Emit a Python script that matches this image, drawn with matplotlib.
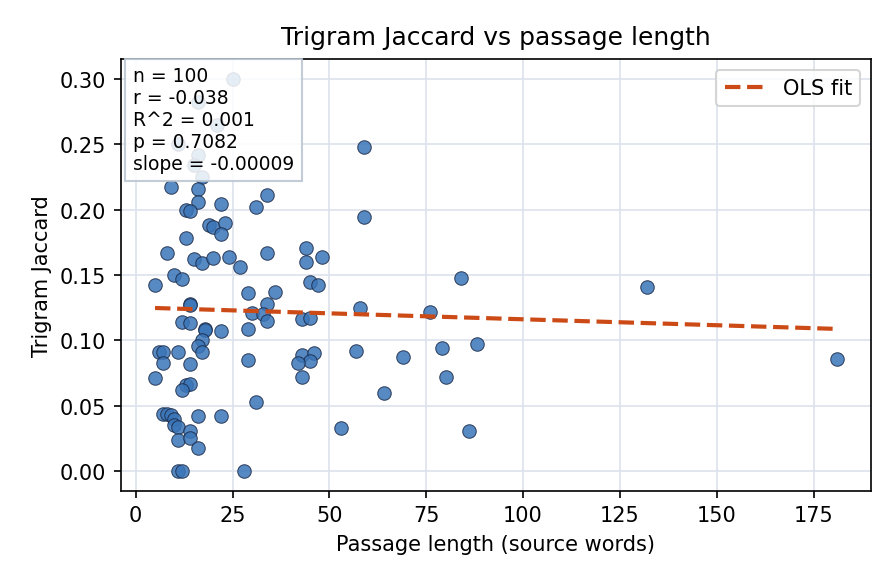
import numpy as np
import matplotlib.pyplot as plt

# passage length (source words) and trigram jaccard
words = [25, 16, 21, 11, 16, 15, 17, 9, 16, 16,
         13, 14, 22, 19, 20, 23, 22, 13, 8, 15,
         17, 20, 24, 27, 10, 12, 5, 14, 14, 12,
         14, 18, 18, 22, 17, 16, 17, 6, 7, 11,
         7, 14, 5, 13, 14, 12, 7, 8, 9, 10,
         10, 11, 16, 22, 14, 11, 14, 16, 11, 12,
         28, 34, 31, 34, 44, 44, 48, 45, 47, 29,
         36, 34, 30, 33, 34, 29, 43, 45, 29, 43,
         46, 45, 42, 43, 31, 59, 59, 84, 58, 76,
         57, 69, 79, 80, 88, 64, 53, 86, 132, 181]
jaccard = [0.300, 0.282, 0.265, 0.250, 0.242, 0.234, 0.225, 0.217, 0.216, 0.206,
           0.200, 0.199, 0.204, 0.188, 0.187, 0.190, 0.181, 0.178, 0.167, 0.162,
           0.159, 0.163, 0.164, 0.156, 0.150, 0.147, 0.142, 0.128, 0.127, 0.114,
           0.113, 0.109, 0.108, 0.107, 0.100, 0.096, 0.091, 0.091, 0.091, 0.091,
           0.083, 0.082, 0.071, 0.066, 0.067, 0.062, 0.044, 0.044, 0.043, 0.040,
           0.035, 0.034, 0.042, 0.042, 0.031, 0.024, 0.025, 0.018, 0.0, 0.0,
           0.0, 0.211, 0.202, 0.167, 0.171, 0.160, 0.164, 0.145, 0.142, 0.136,
           0.137, 0.128, 0.121, 0.120, 0.115, 0.109, 0.116, 0.117, 0.085, 0.089,
           0.090, 0.084, 0.083, 0.072, 0.053, 0.248, 0.194, 0.148, 0.125, 0.122,
           0.092, 0.087, 0.094, 0.072, 0.097, 0.060, 0.033, 0.031, 0.141, 0.086]

fit_intercept = 0.1252
fit_slope = -0.0000909
stats_lines = ["n = 100", "r = -0.038", "R^2 = 0.001", "p = 0.7082", "slope = -0.00009"]

x = np.array(words)
y = np.array(jaccard)

fig, ax = plt.subplots(figsize=(5.973, 3.893), dpi=150)
fig.subplots_adjust(left=0.135, right=0.972, top=0.897, bottom=0.158)

ax.grid(True, color="#dde3ec", linewidth=0.8)
ax.set_axisbelow(True)

ax.scatter(x, y, s=42, color="#3a75b8", alpha=0.85, edgecolor="#1c2c4a", linewidth=0.5, zorder=2)

xs = np.array([x.min(), x.max()])
ax.plot(xs, fit_intercept + fit_slope * xs, "--", color="#cc4a16", linewidth=2, label="OLS fit", zorder=3)

ax.set_title("Trigram Jaccard vs passage length", fontsize=12, pad=7.5)
ax.set_xlabel("Passage length (source words)", fontsize=10)
ax.set_ylabel("Trigram Jaccard", fontsize=10)
ax.tick_params(labelsize=10)

ax.text(0.016, 0.984, "\n".join(stats_lines), transform=ax.transAxes, fontsize=9,
        va="top", ha="left", zorder=5,
        bbox=dict(boxstyle="square,pad=0.4", facecolor="white", edgecolor="#b8c4d0", alpha=0.85))

ax.legend(loc="upper right", fontsize=10)

fig.savefig("out.png")
